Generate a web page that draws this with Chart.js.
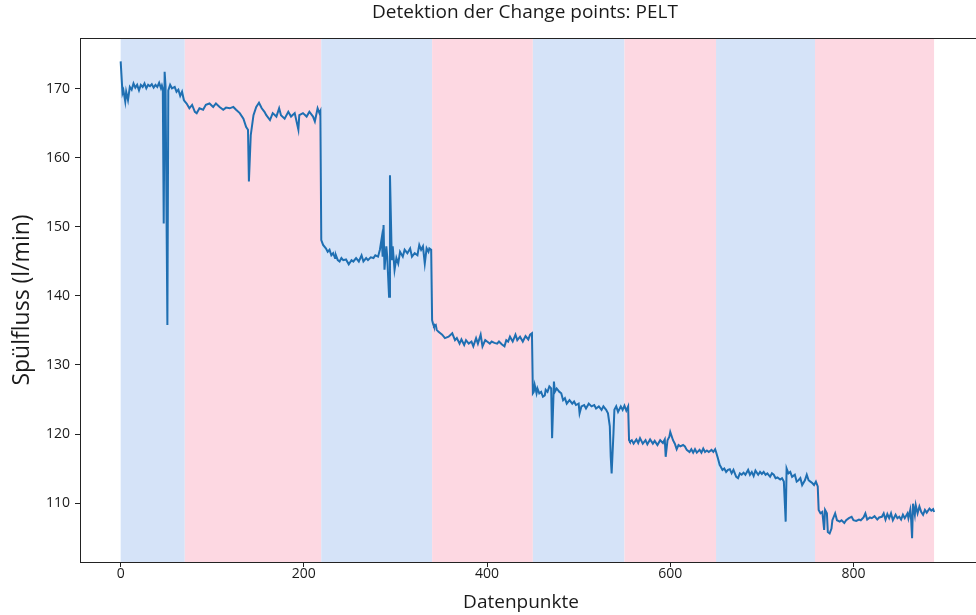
<!DOCTYPE html>
<html lang="de">
<head>
<meta charset="utf-8">
<title>Detektion der Change points: PELT</title>
<script src="https://cdn.jsdelivr.net/npm/chart.js@4.4.1/dist/chart.umd.min.js"></script>
<style>
  html, body { margin: 0; padding: 0; background: #fff; }
  #wrap { width: 976px; height: 615px; overflow: hidden; position: relative; }
  canvas { display: block; }
</style>
</head>
<body>
<div id="wrap"><canvas id="chart" width="1000" height="615"></canvas></div>
<script>
"use strict";

// ---- data ----
const idx = [
  0, 2, 3, 5, 6, 8, 10, 12, 14, 16, 18, 20, 22, 24, 26, 28, 30, 32, 34, 36, 38, 40, 42, 44, 45, 46, 47, 48, 49, 51, 52, 54, 56, 59, 61, 63, 65, 67, 69,
  70, 72, 75, 78, 81, 83, 86, 90, 93, 97, 101, 104, 108, 112, 115, 119, 123, 126, 130, 134, 137, 139, 140, 142, 145, 148, 151, 154, 157, 159, 163, 166, 170, 173, 175, 179, 183, 186, 190, 194, 195, 199, 203, 206, 210, 212, 215, 217, 218,
  219, 221, 224, 226, 228, 230, 232, 234, 235, 237, 239, 241, 243, 246, 249, 252, 254, 257, 260, 263, 265, 268, 270, 273, 276, 278, 281, 283, 285, 286, 287, 288, 290, 291, 293, 294, 296, 297, 299, 301, 303, 305, 308, 310, 313, 316, 318, 321, 324, 326, 328, 330, 332, 334, 336, 337, 339,
  340, 341, 342, 344, 345, 347, 351, 354, 358, 362, 365, 367, 370, 372, 375, 377, 380, 383, 385, 388, 390, 393, 395, 398, 400, 403, 405, 408, 411, 413, 416, 419, 421, 423, 425, 428, 431, 433, 436, 439, 442, 445, 447, 449,
  450, 451, 452, 454, 455, 457, 459, 461, 463, 464, 466, 468, 470, 471, 473, 474, 476, 479, 481, 483, 485, 487, 490, 493, 495, 497, 500, 501, 503, 506, 508, 511, 514, 517, 519, 522, 525, 527, 530, 532, 534, 535, 536, 538, 539, 541, 543, 546, 548, 550, 552, 554,
  555, 556, 558, 560, 563, 565, 567, 570, 573, 575, 578, 581, 583, 586, 589, 592, 594, 595, 597, 599, 600, 603, 605, 607, 609, 611, 614, 616, 618, 621, 623, 625, 627, 629, 632, 634, 636, 638, 640, 642, 645, 647, 649, 650,
  652, 654, 655, 657, 659, 661, 663, 665, 667, 669, 672, 674, 676, 678, 680, 682, 685, 687, 689, 691, 693, 696, 698, 700, 702, 704, 706, 709, 711, 713, 715, 717, 720, 722, 724, 726, 727, 729, 731, 733, 736, 738, 740, 742, 744, 747, 749, 751, 753, 755, 757, 759, 761,
  762, 764, 766, 768, 769, 771, 772, 774, 776, 777, 780, 782, 785, 787, 790, 792, 795, 798, 800, 803, 806, 808, 811, 813, 815, 818, 820, 823, 826, 828, 831, 833, 835, 837, 839, 841, 843, 846, 848, 850, 852, 854, 856, 859, 860, 862, 863, 864, 865, 867, 868, 870, 872, 874, 876, 878, 880, 883, 885, 887, 888
];
const flow = [
  174.0, 169.4, 169.8, 168.2, 169.6, 168.4, 170.3, 169.9, 170.8, 170.2, 170.6, 169.8, 170.6, 170.3, 170.8, 170.1, 170.6, 170.4, 170.7, 170.2, 170.6, 170.3, 170.9, 170.1, 170.5, 170.0, 150.5, 172.5, 170.4, 135.8, 169.8, 170.6, 170.1, 170.3, 169.6, 169.9, 169.0, 169.6, 168.4,
  168.2, 167.9, 167.2, 167.7, 166.7, 166.5, 167.2, 167.0, 167.7, 167.9, 167.4, 167.9, 167.4, 167.0, 167.3, 167.2, 167.4, 167.0, 166.5, 165.7, 164.5, 164.1, 156.6, 163.3, 166.2, 167.4, 168.0, 167.2, 166.7, 166.2, 165.5, 166.5, 166.0, 167.2, 166.2, 165.7, 166.7, 166.0, 166.5, 164.1, 166.2, 166.5, 166.0, 166.7, 166.0, 165.3, 167.2, 166.5, 166.8,
  148.1, 147.4, 146.9, 146.4, 146.7, 145.9, 146.2, 145.5, 145.9, 145.2, 145.0, 145.5, 145.2, 145.3, 144.6, 145.2, 145.0, 145.5, 145.0, 145.9, 145.0, 145.5, 145.2, 145.6, 145.5, 145.9, 145.7, 146.7, 148.4, 145.7, 150.3, 143.8, 147.2, 145.7, 139.9, 157.5, 145.2, 147.2, 143.8, 145.5, 144.7, 146.4, 145.7, 146.7, 146.2, 146.9, 145.7, 146.2, 145.9, 147.4, 146.7, 147.2, 144.7, 146.9, 146.4, 146.9, 146.7,
  136.5, 136.0, 135.6, 135.8, 135.1, 134.8, 134.4, 133.9, 134.1, 134.6, 133.6, 133.9, 133.1, 133.7, 132.9, 133.6, 133.1, 133.4, 132.7, 133.9, 133.1, 134.4, 132.7, 133.6, 133.4, 133.1, 133.4, 133.2, 133.1, 133.4, 133.0, 132.7, 133.6, 133.4, 134.1, 133.4, 134.4, 133.6, 134.1, 133.4, 134.2, 133.7, 134.4, 134.6,
  125.9, 126.1, 127.1, 125.9, 126.6, 125.9, 126.1, 125.4, 125.6, 126.4, 126.1, 126.9, 126.6, 119.4, 127.6, 126.1, 126.6, 126.1, 125.9, 124.9, 125.2, 124.4, 124.9, 124.4, 124.7, 124.2, 124.4, 123.0, 124.0, 124.2, 123.7, 124.4, 124.0, 124.2, 123.7, 124.0, 123.5, 124.0, 123.5, 123.0, 121.1, 116.7, 114.3, 120.1, 123.5, 124.0, 123.2, 124.0, 123.5, 124.1, 123.4, 124.0,
  119.1, 118.9, 119.1, 118.6, 119.2, 118.7, 119.4, 118.6, 119.1, 118.5, 119.2, 118.6, 119.0, 118.4, 119.1, 118.7, 119.2, 116.7, 119.1, 119.6, 120.3, 119.1, 118.6, 117.8, 118.4, 118.2, 118.4, 118.2, 117.7, 117.4, 117.8, 117.3, 117.8, 117.3, 117.7, 117.3, 117.9, 117.4, 117.6, 117.4, 117.7, 117.4, 117.8, 117.4,
  116.5, 115.5, 115.3, 114.8, 115.0, 114.5, 114.8, 114.9, 114.3, 114.8, 113.8, 113.6, 114.3, 114.1, 114.4, 114.1, 114.8, 114.1, 114.5, 113.9, 114.7, 114.1, 114.5, 114.2, 114.5, 114.1, 114.3, 113.8, 114.3, 114.1, 113.6, 113.7, 113.4, 113.6, 113.1, 107.3, 115.0, 114.3, 114.5, 113.8, 114.1, 113.1, 113.3, 113.6, 112.6, 113.3, 114.1, 113.3, 113.1, 112.9, 112.6, 113.1, 112.4,
  109.0, 108.5, 108.7, 106.1, 109.0, 108.5, 105.8, 105.6, 106.3, 107.5, 108.5, 107.5, 107.3, 107.5, 107.1, 107.5, 107.8, 108.0, 107.5, 107.4, 107.6, 107.5, 107.9, 108.5, 107.6, 107.9, 107.8, 108.1, 107.6, 107.9, 108.0, 108.5, 107.6, 108.4, 107.8, 108.5, 107.5, 108.3, 107.8, 108.0, 107.6, 108.3, 107.8, 108.5, 107.8, 109.0, 107.5, 104.9, 109.9, 108.3, 109.7, 108.5, 109.5, 108.7, 108.3, 109.0, 108.6, 109.2, 108.9, 109.1, 108.7
];

// change points found by PELT (segment borders)
const breakpoints = [0, 70, 219, 340, 450, 550, 650, 758, 888];
const xTicks = [0, 200, 400, 600, 800];
const yTicks = [110, 120, 130, 140, 150, 160, 170];

const TITLE = "Detektion der Change points: PELT";
const X_LABEL = "Datenpunkte";
const Y_LABEL = "Spülfluss (l/min)";

const BLUE_SPAN = "#d5e3f8";
const PINK_SPAN = "#fdd8e2";
const LINE = "#1f6fb2";
const INK = "#1a1a1a";
const FONT = "'Open Sans', 'Noto Sans', sans-serif";

const points = idx.map((x, i) => ({ x, y: flow[i] }));

// alternating background bands between change points
const spanPlugin = {
  id: "spans",
  beforeDatasetsDraw(chart) {
    const { ctx, chartArea: a, scales: { x } } = chart;
    ctx.save();
    for (let i = 0; i < breakpoints.length - 1; i++) {
      const x0 = x.getPixelForValue(breakpoints[i]);
      const x1 = x.getPixelForValue(breakpoints[i + 1]);
      ctx.fillStyle = i % 2 === 0 ? BLUE_SPAN : PINK_SPAN;
      ctx.fillRect(x0, a.top, x1 - x0, a.bottom - a.top);
    }
    ctx.restore();
  }
};

// matplotlib-like box around the axes (right edge falls outside the crop)
const framePlugin = {
  id: "frame",
  afterDraw(chart) {
    const { ctx, chartArea: a } = chart;
    ctx.save();
    ctx.strokeStyle = "#222";
    ctx.lineWidth = 1;
    ctx.strokeRect(Math.round(a.left) + 0.5, Math.round(a.top) + 0.5, Math.round(a.right - a.left), Math.round(a.bottom - a.top));
    ctx.restore();
  }
};

// title and axis labels, centred on the visible part of the axes
const labelPlugin = {
  id: "labels",
  afterDraw(chart) {
    const { ctx, chartArea: a } = chart;
    const cx = a.left + 443;
    ctx.save();
    ctx.fillStyle = INK;
    ctx.textAlign = "center";
    ctx.textBaseline = "middle";
    ctx.font = "19px " + FONT;
    ctx.fillText(TITLE, cx + 2, 13);
    ctx.fillText(X_LABEL, cx - 2, 603);
    ctx.translate(22, (a.top + a.bottom) / 2);
    ctx.rotate(-Math.PI / 2);
    ctx.font = "23px " + FONT;
    ctx.fillText(Y_LABEL, 0, 0);
    ctx.restore();
  }
};

new Chart(document.getElementById("chart"), {
  type: "line",
  data: {
    datasets: [{
      data: points,
      borderColor: LINE,
      borderWidth: 2,
      pointRadius: 0,
      tension: 0,
      fill: false
    }]
  },
  options: {
    responsive: false,
    animation: false,
    devicePixelRatio: 1,
    layout: { padding: { left: 0, right: 15, top: 38, bottom: 0 } },
    plugins: {
      legend: { display: false },
      tooltip: { enabled: false },
      title: { display: false }
    },
    scales: {
      x: {
        type: "linear",
        min: -44.4,
        max: 943.6,
        afterBuildTicks: s => { s.ticks = xTicks.map(v => ({ value: v })); },
        afterFit: s => { s.height = 53; },
        grid: { drawOnChartArea: false, drawTicks: true, tickLength: 5, tickColor: "#222" },
        border: { display: false },
        ticks: { color: INK, font: { family: FONT, size: 14 }, padding: -1, maxRotation: 0, callback: v => String(v) }
      },
      y: {
        type: "linear",
        min: 101.45,
        max: 177.39,
        afterBuildTicks: s => { s.ticks = yTicks.map(v => ({ value: v })); },
        afterFit: s => { s.width = 80; },
        grid: { drawOnChartArea: false, drawTicks: true, tickLength: 5, tickColor: "#222" },
        border: { display: false },
        ticks: { color: INK, font: { family: FONT, size: 14 }, padding: 5, callback: v => String(v) }
      }
    }
  },
  plugins: [spanPlugin, framePlugin, labelPlugin]
});
</script>
</body>
</html>
